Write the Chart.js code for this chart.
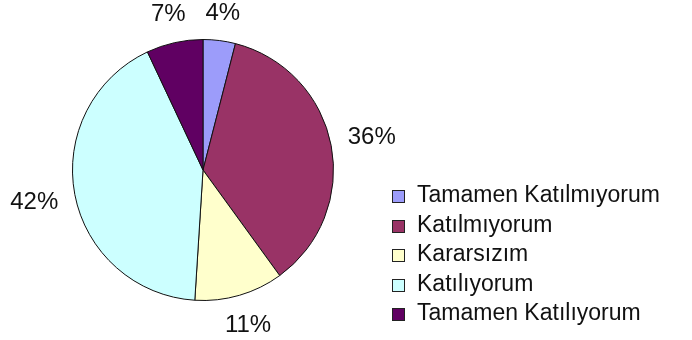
<!DOCTYPE html>
<html lang="tr">
<head>
<meta charset="utf-8">
<script src="https://cdn.jsdelivr.net/npm/chart.js@4.4.1/dist/chart.umd.min.js"></script>
<style>
  html, body { margin: 0; padding: 0; background: #fff; }
  #wrap { position: relative; width: 692px; height: 340px; }
  #pie-chart { position: absolute; left: 0; top: 0; }
  #legend {
    position: absolute; left: 392px; top: 180px; margin: 0; padding: 0;
    list-style: none; font-family: "Liberation Sans", Arial, sans-serif;
    font-size: 23px; color: #111;
  }
  #legend li { height: 29.5px; line-height: 29.5px; white-space: nowrap; }
  #legend span {
    display: inline-block; width: 11px; height: 11px; margin-right: 12px;
    border: 1px solid #222; vertical-align: -1px;
  }
</style>
</head>
<body>
<div id="wrap">
  <canvas id="pie-chart" width="692" height="340"></canvas>
  <ul id="legend"></ul>
</div>
<script>
// cevap kategorileri ve yüzdeleri
const labels = [
  "Tamamen Katılmıyorum",
  "Katılmıyorum",
  "Kararsızım",
  "Katılıyorum",
  "Tamamen Katılıyorum",
];
const values = [4, 36, 11, 42, 7];
const colors = ["#9c9cfa", "#993366", "#ffffcc", "#ccffff", "#600062"];

// dilimlerin dışına yüzde etiketleri
const outsideLabels = {
  id: "outsideLabels",
  afterDatasetsDraw(chart) {
    const ctx = chart.ctx;
    const meta = chart.getDatasetMeta(0);
    ctx.save();
    ctx.font = "24px 'Liberation Sans', Arial, sans-serif";
    ctx.fillStyle = "#111";
    ctx.textAlign = "center";
    ctx.textBaseline = "middle";
    meta.data.forEach((arc, i) => {
      const p = arc.getProps(["x", "y", "startAngle", "endAngle", "outerRadius"], true);
      const mid = (p.startAngle + p.endAngle) / 2;
      const text = values[i] + "%";
      const w = ctx.measureText(text).width;
      const h = 18;
      const cos = Math.cos(mid);
      const sin = Math.sin(mid);
      const d = p.outerRadius + 16 + Math.abs(cos) * w / 2 + Math.abs(sin) * h / 2;
      ctx.fillText(text, p.x + cos * d, p.y + sin * d);
    });
    ctx.restore();
  },
};

const pieCtx = document.getElementById("pie-chart").getContext("2d");
const pieChart = new Chart(pieCtx, {
  type: "pie",
  data: {
    labels: labels,
    datasets: [
      {
        data: values,
        backgroundColor: colors,
        borderColor: "#111",
        borderWidth: 1,
      },
    ],
  },
  options: {
    responsive: false,
    animation: false,
    layout: { padding: { left: 72, right: 358, top: 39, bottom: 39 } },
    plugins: {
      legend: { display: false },
      tooltip: { enabled: false },
    },
  },
  plugins: [outsideLabels],
});

// sağdaki açıklama listesi
const legendEl = document.querySelector("#legend");
labels.forEach((name, i) => {
  const li = document.createElement("li");
  const box = document.createElement("span");
  box.style.background = colors[i];
  li.appendChild(box);
  li.appendChild(document.createTextNode(name));
  legendEl.appendChild(li);
});
</script>
</body>
</html>
